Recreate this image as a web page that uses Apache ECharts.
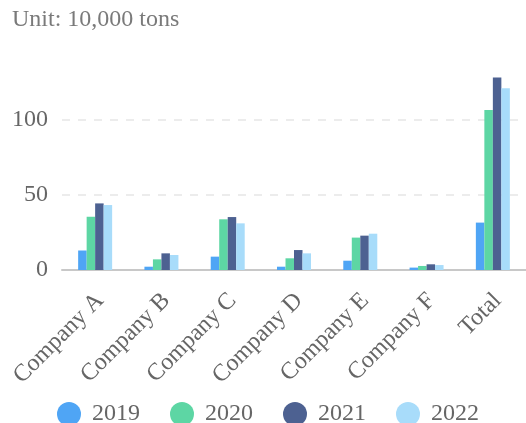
<!DOCTYPE html>
<html>
<head>
<meta charset="utf-8">
<script src="https://cdn.jsdelivr.net/npm/echarts@6/dist/echarts.min.js"></script>
<style>
html,body{margin:0;padding:0;background:#fff;}
#chart{width:526px;height:423px;}
</style>
</head>
<body>
<div id="chart"></div>
<script>
var categories = ['Company A', 'Company B', 'Company C', 'Company D', 'Company E', 'Company F', 'Total'];
var seriesNames = ['2019', '2020', '2021', '2022'];
var v2019 = [13, 2.2, 8.9, 2.2, 6.2, 1.6, 31.6];
var v2020 = [35.5, 7.1, 33.8, 7.8, 21.6, 2.7, 106.7];
var v2021 = [44.4, 11.1, 35.3, 13.3, 22.9, 3.8, 128.4];
var v2022 = [43.3, 10, 31.1, 11.1, 24.2, 3.3, 121.1];
var yTicks = [0, 50, 100, 150];
var colors = ['#4fa5f5', '#5dd6a4', '#4d6191', '#a8dcfa'];

var font = '"Liberation Serif", "DejaVu Serif", serif';
var values = [v2019, v2020, v2021, v2022];
var chart = echarts.init(document.getElementById('chart'));
chart.setOption({
  animation: false,
  color: colors,
  title: {
    text: 'Unit: 10,000 tons',
    left: 7,
    top: 3,
    textStyle: { fontFamily: font, fontSize: 24, fontWeight: 'normal', color: '#7a7a7a' }
  },
  legend: {
    data: seriesNames,
    icon: 'circle',
    itemWidth: 24,
    itemHeight: 24,
    itemGap: 30,
    left: 52,
    top: 397,
    textStyle: { fontFamily: font, fontSize: 24, color: '#666', padding: [0, 0, 0, 6] }
  },
  grid: { left: 62, right: 0, top: 45, bottom: 153 },
  xAxis: {
    type: 'category',
    data: categories,
    axisLine: { lineStyle: { color: '#c8c8c8', width: 2 } },
    axisTick: { alignWithLabel: true, length: 5, lineStyle: { color: '#c8c8c8' } },
    axisLabel: { rotate: 45, margin: 32, padding: [0, -7, 0, 0], fontFamily: font, fontSize: 24, color: '#666', interval: 0 }
  },
  yAxis: {
    type: 'value',
    min: yTicks[0],
    max: yTicks[yTicks.length - 1],
    interval: 50,
    axisLine: { show: false },
    axisTick: { show: false },
    axisLabel: { showMaxLabel: false, margin: 14, fontFamily: font, fontSize: 24, color: '#666' },
    splitLine: { lineStyle: { type: [8, 8], width: 1.5, color: ['#e6e6e6', '#e6e6e6', '#e6e6e6', 'rgba(0,0,0,0)'] } }
  },
  series: seriesNames.map(function (n, i) {
    return { name: n, type: 'bar', data: values[i], barWidth: 8.5, barGap: '0%' };
  })
});
</script>
</body>
</html>
